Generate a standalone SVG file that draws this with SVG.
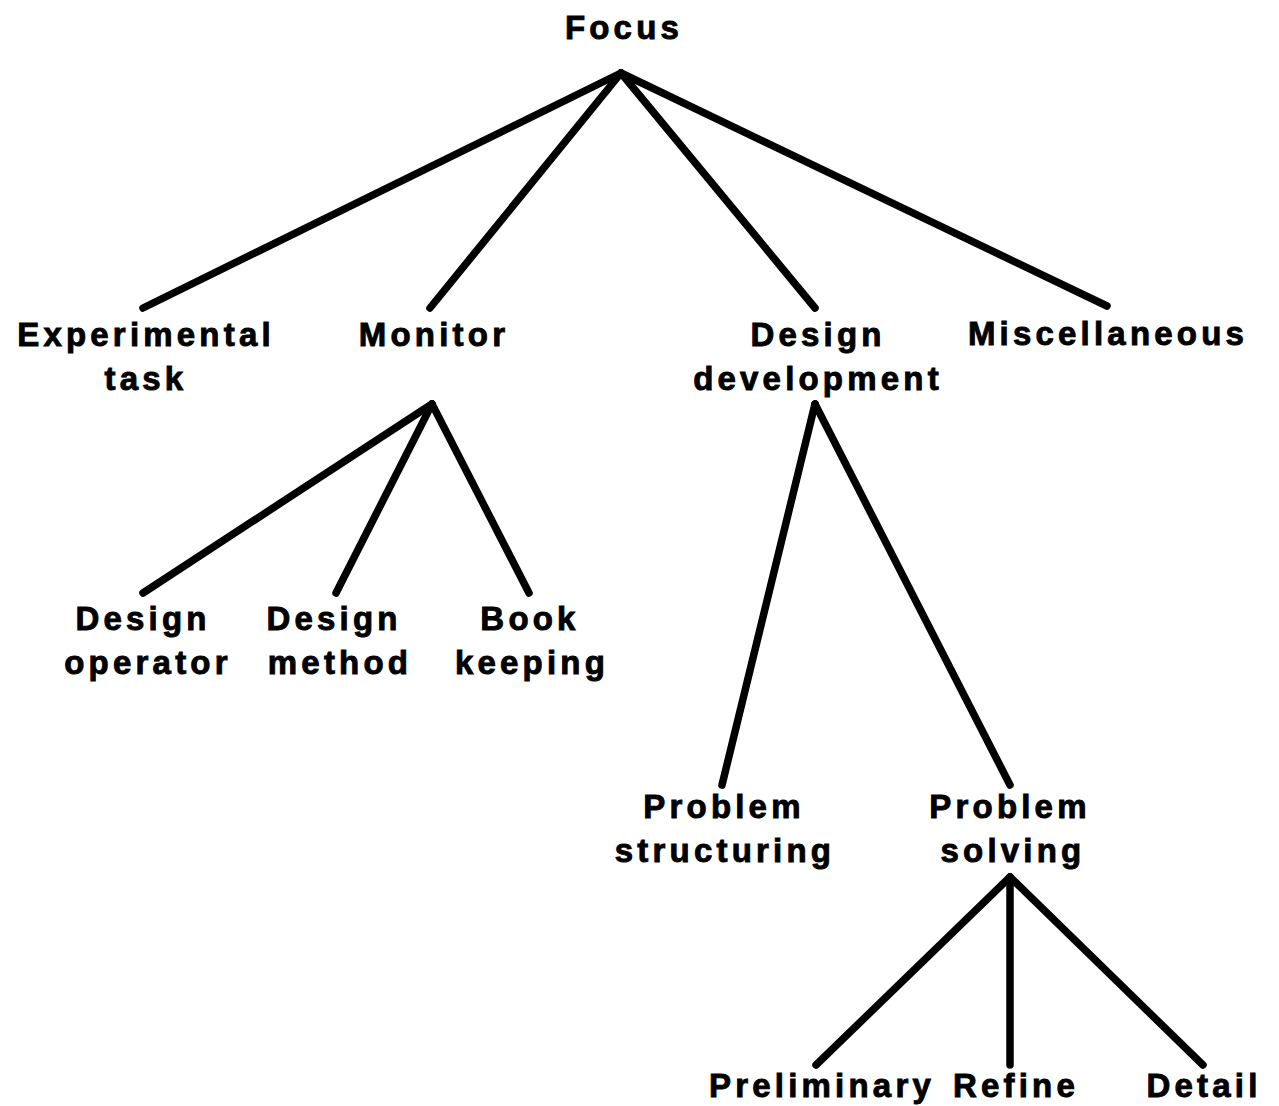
<svg xmlns="http://www.w3.org/2000/svg" width="1279" height="1106" viewBox="0 0 1279 1106">
<style>
text{font-family:"Liberation Sans",Arial,Helvetica,sans-serif;font-weight:bold;font-size:33px;letter-spacing:4.2px;fill:#000;stroke:#000;stroke-width:0.9px;text-anchor:middle}
.e{stroke:#000;stroke-width:7.5;stroke-linecap:round;fill:none}
</style>
<rect width="1279" height="1106" fill="#fff"/>
<g id="connectors">
<line class="e" x1="621" y1="73" x2="143" y2="308"/>
<line class="e" x1="621" y1="73" x2="430" y2="308"/>
<line class="e" x1="621" y1="73" x2="815" y2="308"/>
<line class="e" x1="621" y1="73" x2="1107" y2="306"/>
<line class="e" x1="432" y1="404" x2="143" y2="593"/>
<line class="e" x1="432" y1="404" x2="336" y2="593"/>
<line class="e" x1="432" y1="404" x2="529" y2="593"/>
<line class="e" x1="815" y1="404" x2="722" y2="785"/>
<line class="e" x1="815" y1="404" x2="1010" y2="785"/>
<line class="e" x1="1010" y1="877" x2="816" y2="1065"/>
<line class="e" x1="1010" y1="877" x2="1010" y2="1065"/>
<line class="e" x1="1010" y1="877" x2="1203" y2="1065"/>
</g>
<g id="focus"><text x="624" y="39">Focus</text></g>
<g id="experimental-task"><text x="146" y="346">Experimental</text><text x="146" y="390">task</text></g>
<g id="monitor"><text x="434" y="346">Monitor</text></g>
<g id="design-development"><text x="818" y="346">Design</text><text x="818" y="390">development</text></g>
<g id="miscellaneous"><text x="1108" y="345">Miscellaneous</text></g>
<g id="design-operator"><text x="143" y="630">Design</text><text x="148" y="674">operator</text></g>
<g id="design-method"><text x="334" y="630">Design</text><text x="340" y="674">method</text></g>
<g id="book-keeping"><text x="530" y="630">Book</text><text x="532" y="674">keeping</text></g>
<g id="problem-structuring"><text x="724" y="818">Problem</text><text x="725" y="862">structuring</text></g>
<g id="problem-solving"><text x="1010" y="818">Problem</text><text x="1013" y="862">solving</text></g>
<g id="preliminary"><text x="822" y="1097">Preliminary</text></g>
<g id="refine"><text x="1016" y="1097">Refine</text></g>
<g id="detail"><text x="1204" y="1097">Detail</text></g>
</svg>
